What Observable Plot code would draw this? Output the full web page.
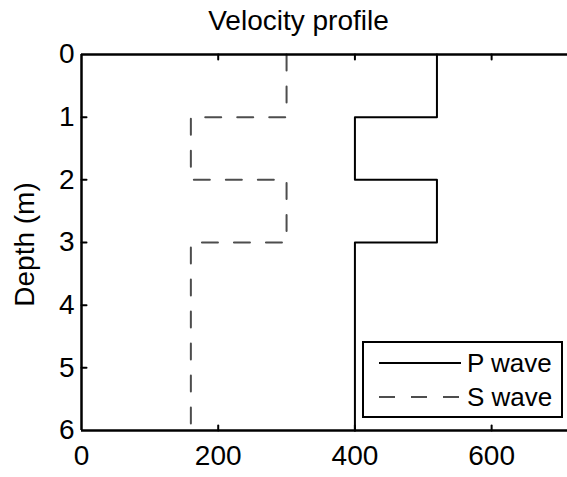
<!DOCTYPE html>
<html><head><meta charset="utf-8">
<script src="https://cdn.jsdelivr.net/npm/d3@7"></script>
<script src="https://cdn.jsdelivr.net/npm/@observablehq/plot@0.6"></script>
<style>
body{margin:0;background:#fff}
#c{position:relative;width:567px;height:477px;font-family:"Liberation Sans",Arial,sans-serif;overflow:hidden}
#c svg{display:block}
#legend{position:absolute;left:362px;top:341px;width:197px;height:73px;border:2px solid #000;background:#fff}
</style>
</head><body><div id="c"></div>
<script>
const depth = [0, 1, 1, 2, 2, 3, 3, 6];
const pWave = [520, 520, 400, 400, 520, 520, 400, 400];
const sWave = [300, 300, 160, 160, 300, 300, 160, 160];
const xTicks = [0, 200, 400, 600];
const yTicks = [0, 1, 2, 3, 4, 5, 6];
const title = "Velocity profile";
const yLabel = "Depth (m)";
const seriesNames = ["P wave", "S wave"];

const FONT = '"Liberation Sans", Arial, sans-serif';
const DASH = "16,16";
const SCOL = "#4d4d4d";
const tickShape = {draw(ctx, l) { ctx.moveTo(0, 0); ctx.lineTo(0, -l); }};

const chart = Plot.plot({
  width: 567,
  height: 477,
  marginLeft: 81,
  marginRight: 0,
  marginTop: 54,
  marginBottom: 47,
  style: {fontFamily: FONT, fontSize: "28px", background: "#fff", color: "#000"},
  x: {domain: [0, 711], ticks: xTicks},
  y: {domain: [0, 6], reverse: true, ticks: yTicks},
  marks: [
    Plot.line(depth, {x: pWave, y: depth, stroke: "#000", strokeWidth: 2}),
    Plot.line(depth, {x: sWave, y: depth, stroke: SCOL, strokeWidth: 2, strokeDasharray: DASH}),
    // inward ticks
    Plot.vector(xTicks.slice(1), {x: d => d, y: 6, length: 5, anchor: "start", rotate: 0, shape: tickShape, stroke: "#000", strokeWidth: 2}),
    Plot.vector(xTicks.slice(1), {x: d => d, y: 0, length: 5, anchor: "start", rotate: 180, shape: tickShape, stroke: "#000", strokeWidth: 2}),
    Plot.vector(yTicks.slice(1, -1), {x: 0, y: d => d, length: 5, anchor: "start", rotate: 90, shape: tickShape, stroke: "#000", strokeWidth: 2}),
    // box
    Plot.ruleY([0, 6], {stroke: "#000", strokeWidth: 2.5}),
    Plot.ruleX([0], {stroke: "#000", strokeWidth: 2.5}),
    // tick labels
    Plot.axisX({anchor: "bottom", ticks: xTicks, tickSize: 0, tickPadding: 15, tickFormat: "d", label: null, fontSize: 28}),
    Plot.axisY({anchor: "left", ticks: yTicks, tickSize: 0, tickPadding: 7, tickFormat: "d", label: null, fontSize: 28}),
    Plot.text([yLabel], {frameAnchor: "left", dx: -48, dy: 2, rotate: -90, textAnchor: "middle", lineAnchor: "bottom", fontSize: 28, text: d => d}),
    Plot.text([title], {frameAnchor: "top-left", dx: 217, dy: -24.5, textAnchor: "middle", lineAnchor: "bottom", fontSize: 28, text: d => d})
  ]
});
const c = document.getElementById("c");
c.appendChild(chart);

// legend
const leg = document.createElement("div");
leg.id = "legend";
const lsvg = d3.create("svg").attr("width", 197).attr("height", 73);
const rows = [
  {name: seriesNames[0], stroke: "#000", dash: null, y: 20},
  {name: seriesNames[1], stroke: SCOL, dash: DASH, y: 54}
];
rows.forEach(r => {
  const ln = lsvg.append("line").attr("x1", 15).attr("x2", 97).attr("y1", r.y).attr("y2", r.y)
    .attr("stroke", r.stroke).attr("stroke-width", 2);
  if (r.dash) ln.attr("stroke-dasharray", DASH);
  lsvg.append("text").attr("x", 103).attr("y", r.y + 9).attr("font-size", 26)
    .attr("font-family", FONT).attr("fill", "#000").text(r.name);
});
leg.appendChild(lsvg.node());
c.appendChild(leg);
</script>
</body></html>
